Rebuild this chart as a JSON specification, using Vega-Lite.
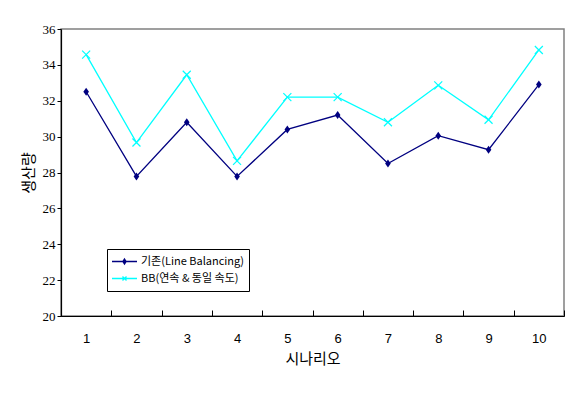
{
  "$schema": "https://vega.github.io/schema/vega-lite/v6.json",
  "autosize": {"type": "none"},
  "width": 503,
  "height": 287,
  "padding": {"left": 61, "top": 29, "right": 23, "bottom": 78},
  "background": "white",
  "config": {
    "view": {"stroke": "#808080", "strokeWidth": 1.5},
    "font": "Liberation Sans Narrow",
    "axis": {"grid": false, "domainColor": "#000000", "tickColor": "#000000", "labelColor": "#000000", "titleColor": "#000000", "domainWidth": 1.2, "tickWidth": 1}
  },
  "data": {
    "values": [
      {"s": 1, "series": "기존(Line Balancing)", "v": 32.5},
      {"s": 2, "series": "기존(Line Balancing)", "v": 27.78},
      {"s": 3, "series": "기존(Line Balancing)", "v": 30.8},
      {"s": 4, "series": "기존(Line Balancing)", "v": 27.78},
      {"s": 5, "series": "기존(Line Balancing)", "v": 30.4},
      {"s": 6, "series": "기존(Line Balancing)", "v": 31.2},
      {"s": 7, "series": "기존(Line Balancing)", "v": 28.5},
      {"s": 8, "series": "기존(Line Balancing)", "v": 30.05},
      {"s": 9, "series": "기존(Line Balancing)", "v": 29.27},
      {"s": 10, "series": "기존(Line Balancing)", "v": 32.9},
      {"s": 1, "series": "BB(연속 & 동일 속도)", "v": 34.57},
      {"s": 2, "series": "BB(연속 & 동일 속도)", "v": 29.67},
      {"s": 3, "series": "BB(연속 & 동일 속도)", "v": 33.45},
      {"s": 4, "series": "BB(연속 & 동일 속도)", "v": 28.65},
      {"s": 5, "series": "BB(연속 & 동일 속도)", "v": 32.2},
      {"s": 6, "series": "BB(연속 & 동일 속도)", "v": 32.2},
      {"s": 7, "series": "BB(연속 & 동일 속도)", "v": 30.8},
      {"s": 8, "series": "BB(연속 & 동일 속도)", "v": 32.86},
      {"s": 9, "series": "BB(연속 & 동일 속도)", "v": 30.94},
      {"s": 10, "series": "BB(연속 & 동일 속도)", "v": 34.83}
    ]
  },
  "encoding": {
    "x": {
      "field": "s", "type": "ordinal", "bandPosition": 0.5,
      "scale": {"type": "band", "paddingInner": 0, "paddingOuter": 0},
      "axis": {"title": "시나리오", "labelAngle": 0, "tickBand": "extent", "tickSize": -6, "labelPadding": 22, "labelFontSize": 13, "labelFont": "Liberation Sans", "titleFont": "Noto Sans CJK KR", "titleFontSize": 15, "titleFontWeight": "normal", "titlePadding": 6}
    },
    "y": {
      "field": "v", "type": "quantitative",
      "scale": {"domain": [20, 36], "nice": false, "zero": false},
      "axis": {"title": "생산량", "values": [20, 22, 24, 26, 28, 30, 32, 34, 36], "tickSize": 4, "labelPadding": 2, "labelFontSize": 13, "titleFont": "Noto Sans CJK KR", "titleFontSize": 15, "titleFontWeight": "normal", "titlePadding": 6}
    }
  },
  "layer": [
    {
      "mark": {"type": "line", "strokeWidth": 1.3},
      "encoding": {
        "color": {
          "field": "series", "type": "nominal",
          "scale": {"domain": ["기존(Line Balancing)", "BB(연속 & 동일 속도)"], "range": ["#000080", "#00FFFF"]},
          "legend": {
            "title": null, "orient": "none", "legendX": 46, "legendY": 220,
            "strokeColor": "#000000", "fillColor": "#ffffff", "padding": 4,
            "symbolSize": 625, "clipHeight": 17, "rowPadding": 0,
            "labelFont": "Noto Sans CJK KR", "labelFontSize": 11, "labelOffset": 3, "labelColor": "#000000",
            "encode": {
              "symbols": {
                "update": {
                  "shape": {"signal": "datum.value === '기존(Line Balancing)' ? 'M-1,0H1M0,-0.2L0.13,0L0,0.2L-0.13,0Z' : 'M-1,0H1M-0.16,-0.16L0.16,0.16M-0.16,0.16L0.16,-0.16'"},
                  "fill": {"signal": "datum.value === '기존(Line Balancing)' ? '#000080' : 'transparent'"},
                  "strokeWidth": {"value": 1.3}
                }
              }
            }
          }
        }
      }
    },
    {
      "transform": [{"filter": "datum.series === '기존(Line Balancing)'"}],
      "mark": {"type": "point", "size": 64, "opacity": 1, "filled": true, "color": "#000080", "shape": "M0,-1L0.7,0L0,1L-0.7,0Z"}
    },
    {
      "transform": [{"filter": "datum.series === 'BB(연속 & 동일 속도)'"}],
      "mark": {"type": "point", "size": 64, "opacity": 1, "filled": false, "color": "#00FFFF", "strokeWidth": 1.2, "shape": "M-1,-1L1,1M-1,1L1,-1"}
    }
  ]
}
